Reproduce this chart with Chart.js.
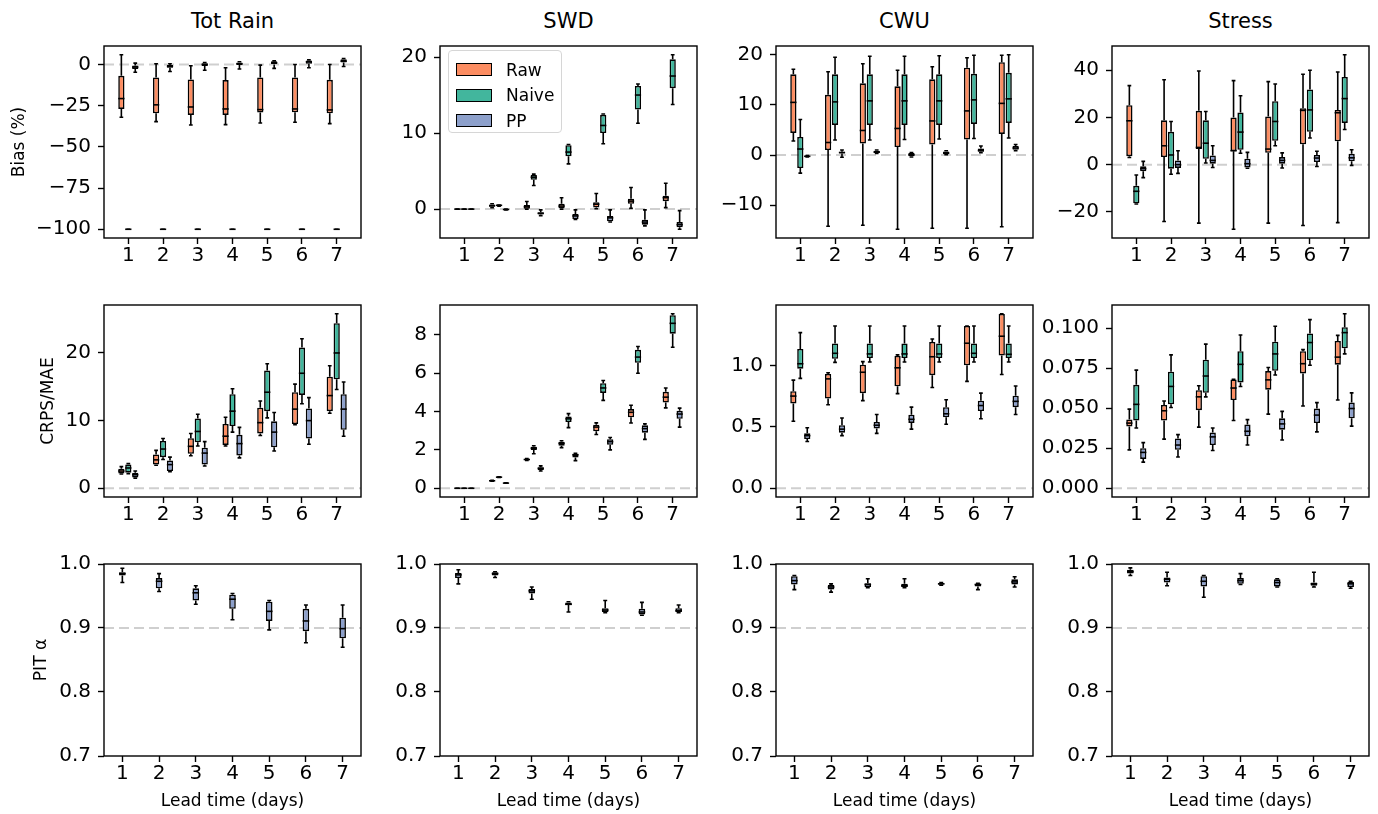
<!DOCTYPE html>
<html>
<head>
<meta charset="utf-8">
<script src="https://cdn.jsdelivr.net/npm/chart.js@4.4.1/dist/chart.umd.min.js"></script>
<style>
  body { margin: 0; background: #fff; font-family: "DejaVu Sans", sans-serif; }
  #fig { position: relative; width: 1378px; height: 814px; overflow: hidden; }
  canvas { position: absolute; }
  .col-title { position: absolute; text-align: center; font-size: 21px; line-height: 24px; color: #000; }
  .legend { position: absolute; border: 1px solid #d6d6d6; border-radius: 4px; background: rgba(255,255,255,0.85); box-sizing: border-box; padding: 6px 0 0 7px; }
  .legend div { height: 25.5px; display: flex; align-items: center; font-size: 17px; color: #000; }
  .legend span.patch { display: inline-block; width: 34px; height: 11px; border: 1.5px solid #000; margin-right: 14px; }
</style>
</head>
<body>
<div id="fig"></div>
<script>
const leadTimes = [1, 2, 3, 4, 5, 6, 7];
const seriesNames = ['Raw', 'Naive', 'PP'];
const seriesColors = ['#fc8d62', '#42b69d', '#8da0cb'];
const columnTitles = ['Tot Rain', 'SWD', 'CWU', 'Stress'];
const rowLabels = ['Bias (%)', 'CRPS/MAE', 'PIT \u03b1'];

// tick values per panel
const rainBiasTicks = [-100, -75, -50, -25, 0];
const swdBiasTicks = [0, 10, 20];
const cwuBiasTicks = [-10, 0, 10, 20];
const stressBiasTicks = [-20, 0, 20, 40];
const rainCrpsTicks = [0, 10, 20];
const swdCrpsTicks = [0, 2, 4, 6, 8];
const cwuCrpsTicks = [0, 0.5, 1.0];
const stressCrpsTicks = [0, 0.025, 0.05, 0.075, 0.1];
const pitTicks = [0.7, 0.8, 0.9, 1.0];

// every box: [lower whisker, q1, median, q3, upper whisker]
const rainBiasRaw = [[-32, -27, -20.7, -6.9, 5.9], [-34.7, -29.6, -24.5, -7.9, 0.4], [-36.7, -30.6, -25.8, -9.1, -0.8], [-36.5, -30.6, -27, -9.5, -2], [-35.5, -29.2, -27.4, -7.9, -0.4], [-35.1, -29, -27, -7.9, 0], [-35.9, -29.6, -27.6, -9.3, 0]];
const rainBiasNaive = [[-100, -100, -100, -100, -100], [-100, -100, -100, -100, -100], [-100, -100, -100, -100, -100], [-100, -100, -100, -100, -100], [-100, -100, -100, -100, -100], [-100, -100, -100, -100, -100], [-100, -100, -100, -100, -100]];
const rainBiasPP = [[-4.7, -2.8, -1.6, -0.6, 0.8], [-4.3, -2, -1.2, -0.4, 0.4], [-3.5, -1, 0, 0.8, 1.2], [-2.8, -0.4, 0.4, 1.2, 1.6], [-2.4, 0, 1, 2, 2.2], [-2, 0.4, 1.6, 2.4, 2.8], [-1.2, 1.2, 2, 3.2, 3.6]];

const swdBiasRaw = [[0, 0, 0, 0, 0], [0.2, 0.3, 0.45, 0.6, 0.7], [0, 0.05, 0.3, 0.55, 1.0], [0, 0.1, 0.4, 0.7, 1.5], [0.05, 0.2, 0.65, 0.9, 2.05], [0.1, 0.7, 1.05, 1.35, 2.85], [0.2, 1.05, 1.5, 1.75, 3.4]];
const swdBiasNaive = [[0, 0, 0, 0, 0], [0.4, 0.45, 0.5, 0.5, 0.55], [3.1, 3.85, 4.2, 4.5, 4.6], [5.95, 6.95, 7.5, 8.4, 8.5], [8.6, 10.0, 11.0, 12.4, 12.5], [11.3, 13.1, 15.0, 16.2, 16.45], [13.75, 15.9, 17.5, 19.7, 20.3]];
const swdBiasPP = [[0, 0, 0, 0, 0], [-0.1, -0.05, -0.05, -0.05, 0], [-0.85, -0.7, -0.55, -0.4, -0.1], [-1.35, -1.3, -0.9, -0.65, -0.1], [-1.7, -1.6, -1.15, -0.9, -0.1], [-2.2, -2.05, -1.7, -1.4, -0.1], [-2.65, -2.4, -2.05, -1.7, -0.2]];

const cwuBiasRaw = [[2.8, 4.4, 10.5, 16.1, 17.1], [-14.2, 1.0, 2.5, 12.0, 16.6], [-14.0, 2.3, 4.9, 14.3, 18.2], [-14.8, 1.6, 5.3, 13.7, 16.9], [-14.6, 2.1, 6.8, 15.1, 17.6], [-14.6, 3.1, 8.8, 17.4, 19.4], [-14.3, 4.2, 10.3, 18.5, 19.9]];
const cwuBiasNaive = [[-3.6, -2.6, 1.2, 3.6, 7.1], [3.0, 6.0, 10.6, 16.1, 19.5], [3.0, 6.0, 10.8, 16.1, 19.7], [3.1, 6.0, 10.8, 16.1, 19.7], [3.2, 6.0, 10.8, 16.1, 19.8], [3.3, 6.2, 11.0, 16.2, 19.9], [3.4, 6.4, 11.2, 16.4, 20.0]];
const cwuBiasPP = [[-0.4, -0.35, -0.25, -0.15, -0.1], [-0.45, 0.3, 0.5, 0.65, 1.0], [0.3, 0.4, 0.6, 0.85, 1.0], [-0.4, -0.25, 0.05, 0.4, 0.5], [0.05, 0.15, 0.4, 0.7, 0.85], [0.45, 0.65, 0.9, 1.3, 1.8], [0.85, 1.05, 1.4, 1.8, 2.1]];

const stressBiasRaw = [[3.0, 3.6, 18.6, 25.2, 33.5], [-24.1, 3.2, 8, 18.8, 36.0], [-24.8, 6.6, 7.3, 22.8, 39.7], [-27.4, 5.7, 5.9, 20.0, 35.6], [-24.8, 5.0, 6.6, 20.4, 35.2], [-25.8, 8.6, 23, 23.9, 38.3], [-24.6, 9.9, 22, 23.2, 39.3]];
const stressBiasNaive = [[-16.7, -16.4, -11.3, -9.0, -4.4], [-4.1, -1.7, 4.1, 13.9, 18.3], [0.7, 2.5, 9.1, 18.8, 22.5], [4.8, 6.3, 13.8, 22.1, 29.2], [8.0, 10.1, 18.3, 26.9, 34.2], [11.3, 13.9, 23.2, 31.9, 40.0], [14.9, 17.7, 28.0, 37.2, 46.6]];
const stressBiasPP = [[-5.5, -2.8, -1.7, -0.7, 1.4], [-3.7, -1.4, 0, 1.8, 5.9], [-1.2, 0.4, 1.8, 3.9, 8.0], [-1.5, -1.2, 0.4, 2.5, 5.2], [-1.4, 0.4, 1.8, 3.2, 5.0], [-0.8, 1.1, 2.8, 4.1, 5.7], [-0.3, 1.4, 2.9, 4.6, 6.3]];

const rainCrpsRaw = [[2.1, 2.2, 2.55, 2.9, 3.2], [3.4, 3.5, 4.2, 5.0, 5.6], [4.8, 5.1, 6.2, 7.4, 8.1], [6.25, 6.4, 7.7, 9.5, 10.5], [7.8, 8.1, 9.7, 11.9, 12.9], [9.4, 9.5, 11.7, 14.2, 15.4], [11.1, 11.4, 13.7, 16.5, 18.1]];
const rainCrpsNaive = [[2.15, 2.3, 3.0, 3.5, 3.65], [4.25, 4.6, 5.8, 7.0, 7.35], [6.25, 6.8, 8.4, 10.3, 10.95], [8.3, 9.2, 11.4, 13.9, 14.7], [10.4, 11.4, 14.2, 17.4, 18.4], [12.5, 13.8, 17.0, 20.8, 22.1], [14.6, 16.1, 20.0, 24.4, 25.8]];
const rainCrpsPP = [[1.5, 1.6, 2.0, 2.3, 2.55], [2.45, 2.55, 3.5, 4.1, 4.6], [3.3, 3.5, 5.2, 6.0, 6.9], [4.5, 4.85, 6.6, 7.9, 9.0], [5.5, 6.05, 8.3, 9.9, 11.2], [6.5, 7.35, 10.0, 11.8, 13.4], [7.7, 8.65, 11.7, 13.9, 15.7]];

const swdCrpsRaw = [[0, 0, 0, 0, 0], [0.37, 0.38, 0.39, 0.4, 0.41], [1.45, 1.47, 1.5, 1.53, 1.55], [2.12, 2.22, 2.34, 2.43, 2.48], [2.8, 2.97, 3.19, 3.31, 3.41], [3.4, 3.7, 3.96, 4.13, 4.33], [4.19, 4.47, 4.75, 5.03, 5.23]];
const swdCrpsNaive = [[0, 0, 0, 0, 0], [0.56, 0.57, 0.58, 0.59, 0.6], [1.8, 1.99, 2.09, 2.16, 2.22], [3.16, 3.45, 3.62, 3.74, 3.89], [4.58, 4.97, 5.23, 5.48, 5.62], [6.0, 6.54, 6.84, 7.22, 7.39], [7.35, 8.06, 8.6, 9.02, 9.1]];
const swdCrpsPP = [[0, 0, 0, 0, 0], [0.26, 0.27, 0.27, 0.28, 0.29], [0.9, 0.95, 1.04, 1.1, 1.17], [1.44, 1.61, 1.75, 1.78, 1.82], [2.0, 2.27, 2.43, 2.56, 2.65], [2.55, 2.9, 3.11, 3.28, 3.36], [3.19, 3.62, 3.87, 4.04, 4.18]];

const cwuCrpsRaw = [[0.545, 0.69, 0.75, 0.79, 0.88], [0.68, 0.73, 0.89, 0.93, 0.94], [0.713, 0.774, 0.944, 1.005, 1.03], [0.77, 0.83, 0.98, 1.077, 1.085], [0.82, 0.92, 1.07, 1.19, 1.215], [0.87, 1.0, 1.18, 1.32, 1.32], [0.925, 1.08, 1.237, 1.418, 1.42]];
const cwuCrpsNaive = [[0.894, 0.973, 1.013, 1.133, 1.266], [1.024, 1.053, 1.098, 1.178, 1.32], [1.027, 1.059, 1.093, 1.178, 1.32], [1.027, 1.059, 1.093, 1.178, 1.32], [1.027, 1.059, 1.093, 1.178, 1.32], [1.027, 1.059, 1.098, 1.178, 1.32], [1.027, 1.059, 1.09, 1.178, 1.32]];
const cwuCrpsPP = [[0.38, 0.40, 0.428, 0.447, 0.492], [0.428, 0.452, 0.481, 0.513, 0.572], [0.447, 0.487, 0.513, 0.54, 0.60], [0.481, 0.532, 0.561, 0.598, 0.66], [0.521, 0.577, 0.606, 0.66, 0.72], [0.566, 0.628, 0.673, 0.713, 0.774], [0.60, 0.66, 0.707, 0.753, 0.832]];

const stressCrpsRaw = [[0.024, 0.0386, 0.0407, 0.0429, 0.0494], [0.0307, 0.0423, 0.0484, 0.052, 0.0545], [0.0382, 0.0488, 0.0571, 0.0612, 0.064], [0.0423, 0.0551, 0.0626, 0.068, 0.068], [0.0463, 0.0616, 0.0677, 0.0732, 0.0754], [0.0514, 0.0717, 0.0778, 0.0856, 0.0866], [0.0551, 0.0772, 0.0819, 0.092, 0.0955]];
const stressCrpsNaive = [[0.0376, 0.0423, 0.0524, 0.0646, 0.0738], [0.0504, 0.0524, 0.0636, 0.0728, 0.0833], [0.0571, 0.0596, 0.0701, 0.0803, 0.09], [0.0636, 0.0661, 0.0774, 0.0856, 0.0957], [0.0707, 0.0734, 0.0839, 0.0915, 0.1012], [0.0768, 0.0799, 0.091, 0.0967, 0.1053], [0.0839, 0.0874, 0.0972, 0.1006, 0.109]];
const stressCrpsPP = [[0.0163, 0.0183, 0.0224, 0.025, 0.0285], [0.0195, 0.024, 0.027, 0.0311, 0.0335], [0.0236, 0.027, 0.0321, 0.0348, 0.0376], [0.027, 0.0325, 0.0356, 0.0398, 0.0429], [0.0301, 0.0366, 0.0402, 0.0437, 0.048], [0.0352, 0.0407, 0.0457, 0.0498, 0.0535], [0.0388, 0.0437, 0.0498, 0.0535, 0.0596]];

const rainPitPP = [[0.971, 0.982, 0.985, 0.987, 0.9934], [0.957, 0.962, 0.973, 0.978, 0.985], [0.937, 0.943, 0.955, 0.962, 0.966], [0.913, 0.930, 0.945, 0.952, 0.954], [0.897, 0.911, 0.926, 0.941, 0.943], [0.877, 0.895, 0.911, 0.930, 0.936], [0.870, 0.884, 0.899, 0.916, 0.936]];
const swdPitPP = [[0.969, 0.978, 0.983, 0.986, 0.991], [0.979, 0.982, 0.985, 0.987, 0.988], [0.945, 0.954, 0.958, 0.961, 0.964], [0.925, 0.936, 0.937, 0.940, 0.941], [0.924, 0.925, 0.928, 0.931, 0.943], [0.920, 0.921, 0.925, 0.930, 0.940], [0.924, 0.925, 0.927, 0.931, 0.936]];
const cwuPitPP = [[0.960, 0.968, 0.974, 0.981, 0.982], [0.956, 0.960, 0.964, 0.967, 0.969], [0.963, 0.964, 0.968, 0.970, 0.977], [0.963, 0.964, 0.966, 0.969, 0.977], [0.967, 0.968, 0.969, 0.970, 0.971], [0.960, 0.965, 0.968, 0.969, 0.970], [0.964, 0.968, 0.972, 0.976, 0.980]];
const stressPitPP = [[0.982, 0.985, 0.988, 0.991, 0.994], [0.966, 0.971, 0.976, 0.979, 0.987], [0.948, 0.965, 0.973, 0.981, 0.982], [0.968, 0.969, 0.974, 0.978, 0.985], [0.964, 0.965, 0.971, 0.976, 0.977], [0.964, 0.966, 0.969, 0.971, 0.987], [0.962, 0.964, 0.969, 0.972, 0.973]];

// layout
const panelLefts = [104, 440, 776, 1112];
const panelTops = [41, 300, 559];
const panelW = 257, panelH = 197;
const padL = 100, padT = 14, padR = 10, padB = 60;
const FONT = '"DejaVu Sans", sans-serif';
const yTitlePad = [5, 34, 27];
const LW = 1.6;

const panels = [
  { row: 0, col: 0, series: [rainBiasRaw, rainBiasNaive, rainBiasPP], ticks: rainBiasTicks, dec: 0, ref: 0 },
  { row: 0, col: 1, series: [swdBiasRaw, swdBiasNaive, swdBiasPP], ticks: swdBiasTicks, dec: 0, ref: 0 },
  { row: 0, col: 2, series: [cwuBiasRaw, cwuBiasNaive, cwuBiasPP], ticks: cwuBiasTicks, dec: 0, ref: 0 },
  { row: 0, col: 3, series: [stressBiasRaw, stressBiasNaive, stressBiasPP], ticks: stressBiasTicks, dec: 0, ref: 0 },
  { row: 1, col: 0, series: [rainCrpsRaw, rainCrpsNaive, rainCrpsPP], ticks: rainCrpsTicks, dec: 0, ref: 0 },
  { row: 1, col: 1, series: [swdCrpsRaw, swdCrpsNaive, swdCrpsPP], ticks: swdCrpsTicks, dec: 0, ref: 0 },
  { row: 1, col: 2, series: [cwuCrpsRaw, cwuCrpsNaive, cwuCrpsPP], ticks: cwuCrpsTicks, dec: 1, ref: 0 },
  { row: 1, col: 3, series: [stressCrpsRaw, stressCrpsNaive, stressCrpsPP], ticks: stressCrpsTicks, dec: 3, ref: 0 },
  { row: 2, col: 0, series: [rainPitPP], ticks: pitTicks, dec: 1, ref: 0.9, lim: [0.7, 1.0] },
  { row: 2, col: 1, series: [swdPitPP], ticks: pitTicks, dec: 1, ref: 0.9, lim: [0.7, 1.0] },
  { row: 2, col: 2, series: [cwuPitPP], ticks: pitTicks, dec: 1, ref: 0.9, lim: [0.7, 1.0] },
  { row: 2, col: 3, series: [stressPitPP], ticks: pitTicks, dec: 1, ref: 0.9, lim: [0.7, 1.0] }
];

function fmtTick(v, dec) {
  const s = Math.abs(v).toFixed(dec);
  return (v < 0 && Number(s) !== 0 ? '\u2212' : '') + s;
}

// matplotlib-style autoscale: data range plus the reference line, 5% margins
function autoLimits(series, ref) {
  let lo = ref, hi = ref;
  series.forEach(s => s.forEach(b => { lo = Math.min(lo, b[0]); hi = Math.max(hi, b[4]); }));
  const m = (hi - lo) * 0.05;
  return [lo - m, hi + m];
}

// whiskers, caps, medians, reference line and frame
const boxPlugin = {
  id: 'boxes',
  beforeDatasetsDraw(chart, args, opts) {
    const { ctx, chartArea: a } = chart;
    const y = chart.scales.y;
    const yr = y.getPixelForValue(opts.ref);
    ctx.save();
    ctx.strokeStyle = '#cfcfcf';
    ctx.lineWidth = 2;
    ctx.setLineDash([10, 5]);
    ctx.beginPath();
    ctx.moveTo(a.left, yr);
    ctx.lineTo(a.right, yr);
    ctx.stroke();
    ctx.setLineDash([]);
    ctx.strokeStyle = '#000';
    ctx.lineWidth = LW;
    chart.data.datasets.forEach((ds, i) => {
      chart.getDatasetMeta(i).data.forEach((bar, j) => {
        const [lo, q1, , q3, hi] = ds.stats[j];
        const cap = bar.width * 0.3;
        ctx.beginPath();
        ctx.moveTo(bar.x, y.getPixelForValue(q1));
        ctx.lineTo(bar.x, y.getPixelForValue(lo));
        ctx.moveTo(bar.x, y.getPixelForValue(q3));
        ctx.lineTo(bar.x, y.getPixelForValue(hi));
        ctx.moveTo(bar.x - cap, y.getPixelForValue(lo));
        ctx.lineTo(bar.x + cap, y.getPixelForValue(lo));
        ctx.moveTo(bar.x - cap, y.getPixelForValue(hi));
        ctx.lineTo(bar.x + cap, y.getPixelForValue(hi));
        ctx.stroke();
      });
    });
    ctx.restore();
  },
  afterDatasetsDraw(chart) {
    const { ctx, chartArea: a } = chart;
    const y = chart.scales.y;
    ctx.save();
    ctx.strokeStyle = '#000';
    ctx.lineWidth = LW;
    chart.data.datasets.forEach((ds, i) => {
      chart.getDatasetMeta(i).data.forEach((bar, j) => {
        const ym = y.getPixelForValue(ds.stats[j][2]);
        ctx.beginPath();
        ctx.moveTo(bar.x - bar.width / 2, ym);
        ctx.lineTo(bar.x + bar.width / 2, ym);
        ctx.stroke();
      });
    });
    ctx.lineWidth = 1.4;
    ctx.strokeRect(a.left, a.top, a.right - a.left, a.bottom - a.top);
    ctx.restore();
  }
};

const fig = document.getElementById('fig');

columnTitles.forEach((t, c) => {
  const d = document.createElement('div');
  d.className = 'col-title';
  d.style.left = panelLefts[c] + 'px';
  d.style.top = '9px';
  d.style.width = panelW + 'px';
  d.textContent = t;
  fig.appendChild(d);
});

panels.forEach(p => {
  const cv = document.createElement('canvas');
  const w = padL + panelW + padR, h = padT + panelH + padB;
  cv.width = w; cv.height = h;
  cv.style.width = w + 'px'; cv.style.height = h + 'px';
  cv.style.left = (panelLefts[p.col] - padL) + 'px';
  cv.style.top = (panelTops[p.row] - padT) + 'px';
  fig.appendChild(cv);

  const single = p.series.length === 1;
  const lim = p.lim || autoLimits(p.series, p.ref);
  const datasets = p.series.map((s, k) => {
    const idx = single ? 2 : k;
    return {
      label: seriesNames[idx],
      data: leadTimes.map((t, i) => ({ x: t, y: [s[i][1], s[i][3]] })),
      stats: s,
      backgroundColor: seriesColors[idx],
      borderColor: '#000',
      borderWidth: LW,
      borderSkipped: false,
      categoryPercentage: single ? 0.2 : 0.6,
      barPercentage: 0.9
    };
  });

  new Chart(cv, {
    type: 'bar',
    data: { datasets },
    options: {
      responsive: false,
      animation: false,
      devicePixelRatio: 1,
      layout: { padding: { left: 0, top: padT, right: padR, bottom: 0 } },
      plugins: { legend: { display: false }, tooltip: { enabled: false }, boxes: { ref: p.ref } },
      scales: {
        x: {
          type: 'linear',
          min: single ? 0.5 : 0.3,
          max: single ? 7.5 : 7.7,
          offset: false,
          grid: { offset: false, drawOnChartArea: false, drawTicks: true, tickLength: 6, tickWidth: 1.4, tickColor: '#000' },
          border: { display: false },
          ticks: { font: { family: FONT, size: 20 }, color: '#000', padding: 0, autoSkip: false, maxRotation: 0, callback: v => String(v) },
          afterBuildTicks: s => { s.ticks = leadTimes.map(v => ({ value: v })); },
          afterFit: s => { s.height = padB; },
          title: { display: p.row === 2, text: 'Lead time (days)', color: '#000', font: { family: FONT, size: 17 }, padding: { top: 0, bottom: 4 } }
        },
        y: {
          min: lim[0],
          max: lim[1],
          grid: { drawOnChartArea: false, drawTicks: true, tickLength: 6, tickWidth: 1.4, tickColor: '#000' },
          border: { display: false },
          ticks: { font: { family: FONT, size: 20 }, color: '#000', padding: 7, autoSkip: false, callback: v => fmtTick(v, p.dec) },
          afterBuildTicks: s => { s.ticks = p.ticks.map(v => ({ value: v })); },
          afterFit: s => { s.width = padL; },
          title: { display: p.col === 0, text: rowLabels[p.row], color: '#000', font: { family: FONT, size: 17 }, padding: { top: yTitlePad[p.row], bottom: 0 } }
        }
      }
    },
    plugins: [boxPlugin]
  });
});

// legend inside the SWD bias panel
const lg = document.createElement('div');
lg.className = 'legend';
lg.style.left = '448px';
lg.style.top = '50px';
lg.style.width = '114px';
lg.style.height = '83px';
seriesNames.forEach((n, k) => {
  const row = document.createElement('div');
  const patch = document.createElement('span');
  patch.className = 'patch';
  patch.style.background = seriesColors[k];
  row.appendChild(patch);
  row.appendChild(document.createTextNode(n));
  lg.appendChild(row);
});
fig.appendChild(lg);
</script>
</body>
</html>
